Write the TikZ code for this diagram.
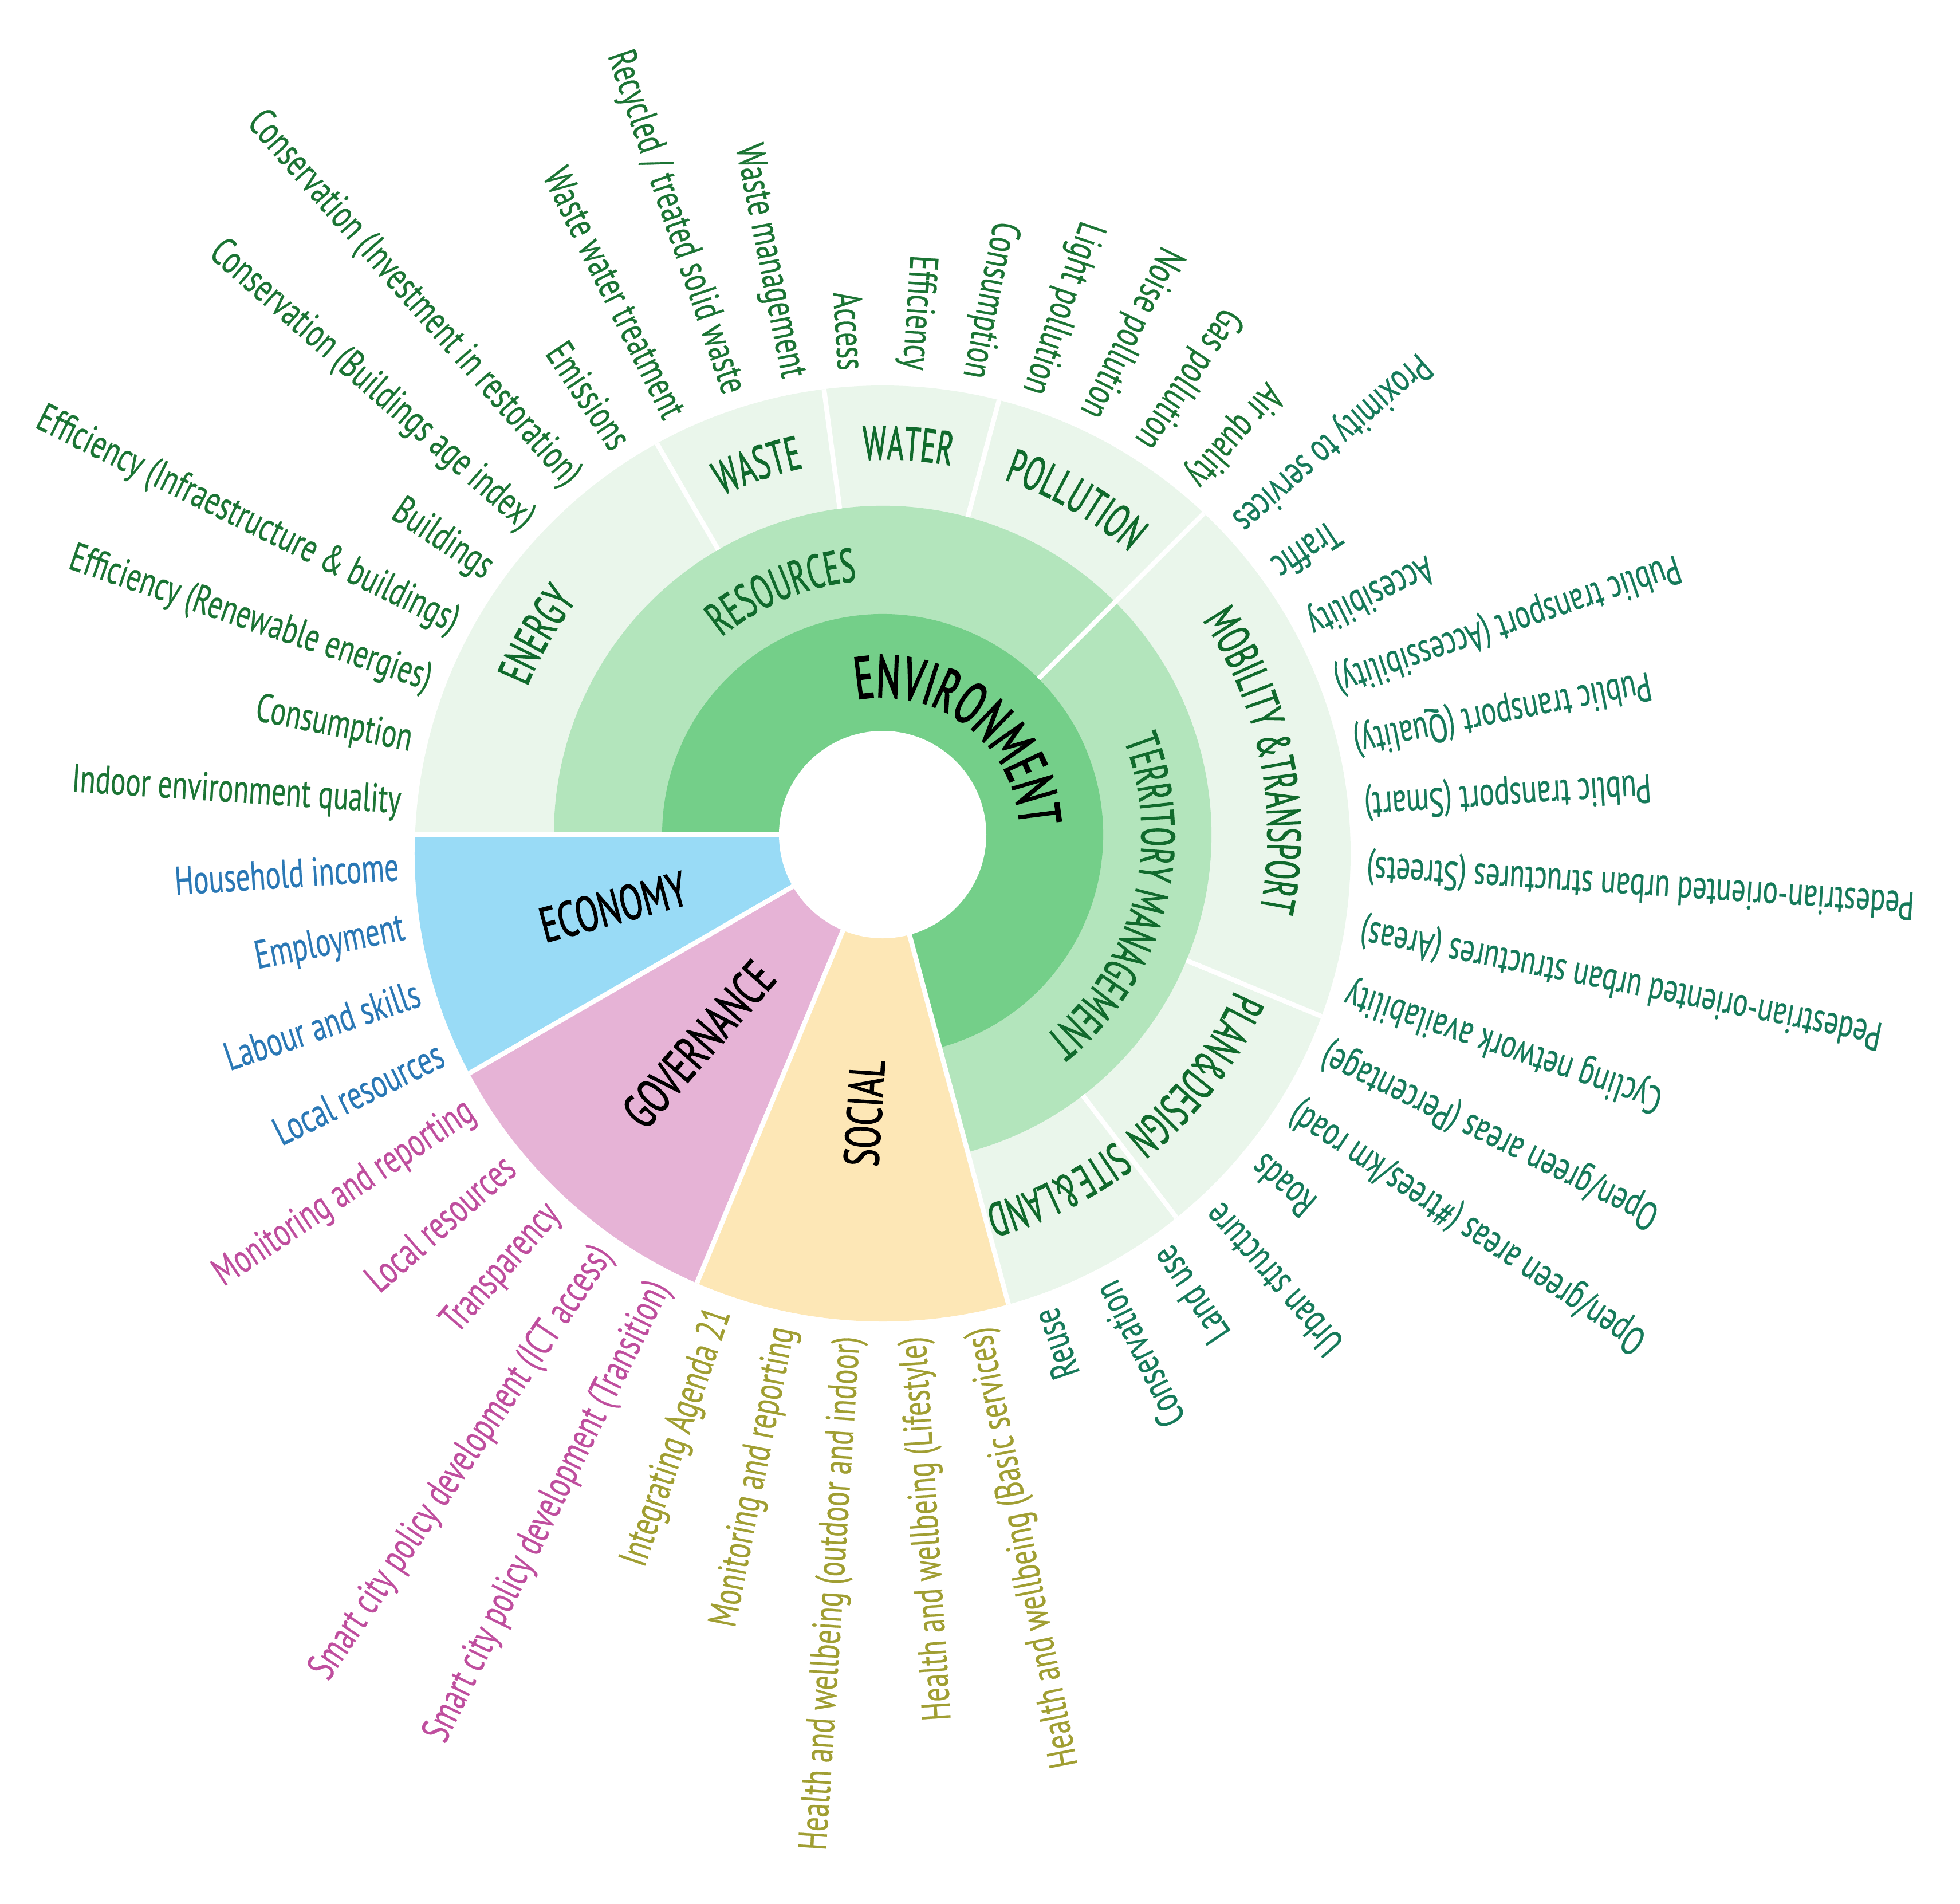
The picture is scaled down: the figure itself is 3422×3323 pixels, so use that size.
\documentclass[tikz,border=0pt]{standalone}
\usepackage{fontspec}
\setmainfont{PT Sans}
\newfontfamily\labfont[FakeStretch=0.7,FakeBold=0.4]{PT Sans}
\newfontfamily\catfont[FakeStretch=0.6,FakeBold=1.2]{PT Sans}
\newfontfamily\envfont[FakeStretch=0.6,FakeBold=2]{PT Sans}
\newfontfamily\bigfont[FakeStretch=0.68,FakeBold=1.4]{PT Sans}
\usetikzlibrary{decorations.text}
\definecolor{ringA}{HTML}{74CF89}
\definecolor{ringB}{HTML}{B3E5BC}
\definecolor{ringC}{HTML}{EAF6EB}
\definecolor{econC}{HTML}{99DBF6}
\definecolor{govC}{HTML}{E6B3D6}
\definecolor{socC}{HTML}{FDE7B6}
\definecolor{catG}{HTML}{106A2C}
\definecolor{envT}{HTML}{1B7434}
\definecolor{mobT}{HTML}{167A5A}
\definecolor{econT}{HTML}{2A78B5}
\definecolor{govT}{HTML}{BF4E9E}
\definecolor{socT}{HTML}{A09E32}
\tikzset{
  sep/.style={white,line width=2.4pt},
  lab/.style={font=\labfont\fontsize{20}{24}\selectfont,inner sep=0pt,anchor=east},
  bigcat/.style={font=\bigfont\fontsize{24.5}{28}\selectfont,inner sep=0pt,text=black}
}
\newcommand\lab[3]{%
  \pgfmathsetmacro\LTh{180-7.5*(#1-0.5)}%
  \pgfmathsetmacro\LRr{-33*sin(\LTh)+100*sqrt(71.4025-0.1089*cos(\LTh)*cos(\LTh))}%
  \node[lab,text=#2,rotate=\LTh+180] (L#1) at (\LTh:\LRr) {#3};%
}
\newcommand\arctext[5]{%
  \path[decorate,decoration={text along path,text align=center,text={|#4|#5}}]
    ({#1+#3}:#2) arc[start angle={#1+#3},end angle={#1-#3},radius=#2];%
}
\newcommand\catfmt{\catfont\fontsize{23.5}{26}\selectfont\color{catG}}
\newcommand\envfmt{\envfont\fontsize{29.5}{32}\selectfont\color{black}}
\begin{document}
\begin{tikzpicture}[x=0.01cm,y=0.01cm]
\useasboundingbox (-1541,-1866) rectangle (1881,1457);
\coordinate (O) at (0,0);
\coordinate (Op) at (0,-33);
\begin{scope}
  \clip (Op) circle (817);
  \fill[econC] (O) -- (180:1100) arc[start angle=180,end angle=210,radius=1100] -- cycle;
  \fill[govC] (O) -- (210:1100) arc[start angle=210,end angle=247.5,radius=1100] -- cycle;
  \fill[socC] (O) -- (247.5:1100) arc[start angle=247.5,end angle=285,radius=1100] -- cycle;
  \fill[ringC] (O) -- (-75:1100) arc[start angle=-75,end angle=180,radius=1100] -- cycle;
  \fill[ringB] (O) -- (-75:574) arc[start angle=-75,end angle=180,radius=574] -- cycle;
  \fill[ringA] (O) -- (-75:385) arc[start angle=-75,end angle=180,radius=385] -- cycle;
  \foreach \a in {180,210,247.5,285} \draw[sep] (O) -- (\a:1100);
  \foreach \a in {120,97.5,75,-22.5,-52.5} \draw[sep] (\a:574) -- (\a:1100);
  \draw[sep] (45:385) -- (45:1100);
\end{scope}
\fill[white] (O) circle (181);
% curved category texts
\arctext{52}{240}{90}{\envfmt}{ENVIRONMENT}
\arctext{112.5}{445}{60}{\catfmt}{RESOURCES}
\arctext{-15}{452}{60}{\catfmt}{TERRITORY MANAGEMENT}
\arctext{150}{672}{40}{\catfmt}{ENERGY}
\arctext{108.75}{655}{40}{\catfmt}{WASTE}
\arctext{86.25}{655}{40}{\catfmt}{WATER}
\arctext{60}{655}{40}{\catfmt}{POLLUTION}
\arctext{11.25}{672}{50}{\catfmt}{MOBILITY {\&}TRANSPORT}
\arctext{-37.5}{672}{40}{\catfmt}{PLAN{\&}DESIGN}
\arctext{-63.75}{672}{40}{\catfmt}{SITE{\&}LAND}
% radial category texts
\node[bigcat,rotate=15] (econ) at (195:487) {ECONOMY};
\node[bigcat,rotate=48.75] (gov) at (228.75:487) {GOVERNANCE};
\node[bigcat,rotate=86.25] (soc) at (266.25:487) {SOCIAL};
% labels
\lab{1}{envT}{Indoor environment quality}
\lab{2}{envT}{Consumption}
\lab{3}{envT}{Efficiency (Renewable energies)}
\lab{4}{envT}{Efficiency (Infraestructure \& buildings)}
\lab{5}{envT}{Buildings}
\lab{6}{envT}{Conservation (Buildings age index)}
\lab{7}{envT}{Conservation (Investment in restoration)}
\lab{8}{envT}{Emissions}
\lab{9}{envT}{Waste water treatment}
\lab{10}{envT}{Recycled / treated solid waste}
\lab{11}{envT}{Waste management}
\lab{12}{envT}{Access}
\lab{13}{envT}{Efficiency}
\lab{14}{envT}{Consumption}
\lab{15}{envT}{Light pollution}
\lab{16}{envT}{Noise pollution}
\lab{17}{envT}{Gas pollution}
\lab{18}{envT}{Air quality}
\lab{19}{mobT}{Proximity to services}
\lab{20}{mobT}{Traffic}
\lab{21}{mobT}{Accesibility}
\lab{22}{mobT}{Public transport (Accessibility)}
\lab{23}{mobT}{Public transport (Quality)}
\lab{24}{mobT}{Public transport (Smart)}
\lab{25}{mobT}{Pedestrian-oriented urban structures (Streets)}
\lab{26}{mobT}{Pedestrian-oriented urban structures (Areas)}
\lab{27}{mobT}{Cycling network availability}
\lab{28}{mobT}{Open/green areas (Percentage)}
\lab{29}{mobT}{Open/green areas (\#trees/km road)}
\lab{30}{mobT}{Roads}
\lab{31}{mobT}{Urban structure}
\lab{32}{mobT}{Land use}
\lab{33}{mobT}{Conservation}
\lab{34}{mobT}{Reuse}
\lab{35}{socT}{Health and wellbeing (Basic services)}
\lab{36}{socT}{Health and wellbeing (Lifestyle)}
\lab{37}{socT}{Health and wellbeing (outdoor and indoor)}
\lab{38}{socT}{Monitoring and reporting}
\lab{39}{socT}{Integrating Agenda 21}
\lab{40}{govT}{Smart city policy development (Transition)}
\lab{41}{govT}{Smart city policy development (ICT access)}
\lab{42}{govT}{Transparency}
\lab{43}{govT}{Local resources}
\lab{44}{govT}{Monitoring and reporting}
\lab{45}{econT}{Local resources}
\lab{46}{econT}{Labour and skills}
\lab{47}{econT}{Employment}
\lab{48}{econT}{Household income}
\end{tikzpicture}
\end{document}
